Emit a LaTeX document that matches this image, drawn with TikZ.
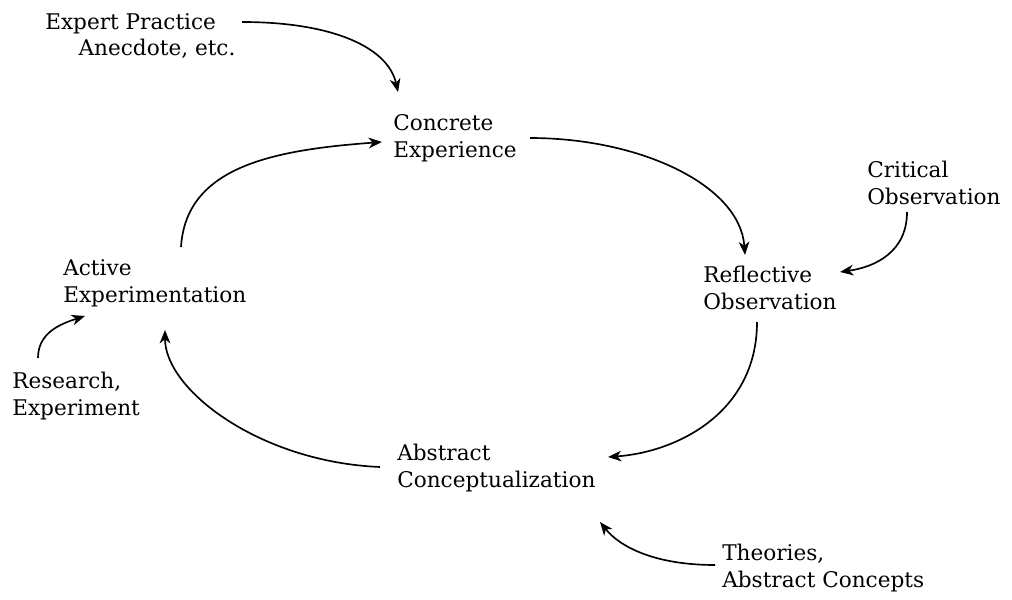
\documentclass[tikz,border=0pt]{standalone}
\usepackage{fontspec}
\setmainfont{DejaVu Serif}
\usetikzlibrary{arrows.meta,calc}
\begin{document}
\begin{tikzpicture}[x=0.75pt,y=-0.75pt,
  lbl/.style={anchor=west,align=left,inner sep=0pt,font=\fontsize{16.2}{20}\selectfont},
  arr/.style={line width=1.25pt,-{Stealth[length=10pt,width=8pt,inset=3pt]}}]
\useasboundingbox (0,0) rectangle (1012,599);
\node[lbl] (ep) at (45,36) {Expert Practice\\\hspace*{25pt}Anecdote, etc.};
\node[lbl] (ce) at (393,138) {Concrete\\Experience};
\node[lbl] (co) at (867,183) {Critical\\Observation};
\node[lbl] (ro) at (703,288) {Reflective\\Observation};
\node[lbl] (ac) at (397,468) {Abstract\\Conceptualization};
\node[lbl] (tac) at (722,568) {Theories,\\Abstract Concepts};
\node[lbl] (re) at (12,396) {Research,\\Experiment};
\node[lbl] (ae) at (63,283) {Active\\Experimentation};
\draw[arr] ($(ep.west)+(197,-14)$) .. controls +(90,0) and +(-10,-45) .. ($(ce.west)+(5,-46)$);
\draw[arr] ($(ce.west)+(137,0)$) .. controls +(110,0) and +(-5,-70) .. ($(ro.west)+(42,-33)$);
\draw[arr] ($(co.west)+(40,29)$) .. controls +(0,40) and +(35,-5) .. ($(ro.west)+(137,-16)$);
\draw[arr] ($(ro.west)+(54,34)$) .. controls +(0,90) and +(70,-5) .. ($(ac.west)+(211,-11)$);
\draw[arr] ($(tac.west)+(-7,-3)$) .. controls +(-60,0) and +(20,25) .. ($(ac.west)+(203,54)$);
\draw[arr] ($(ac.west)+(-17,-1)$) .. controls +(-120,-5) and +(0,60) .. ($(ae.west)+(102,47)$);
\draw[arr] ($(re.west)+(26,-38)$) .. controls +(0,-25) and +(-25,8) .. ($(ae.west)+(22,33)$);
\draw[arr] ($(ae.west)+(118,-36)$) .. controls +(5,-80) and +(-110,8) .. ($(ce.west)+(-11,4)$);
\end{tikzpicture}
\end{document}
